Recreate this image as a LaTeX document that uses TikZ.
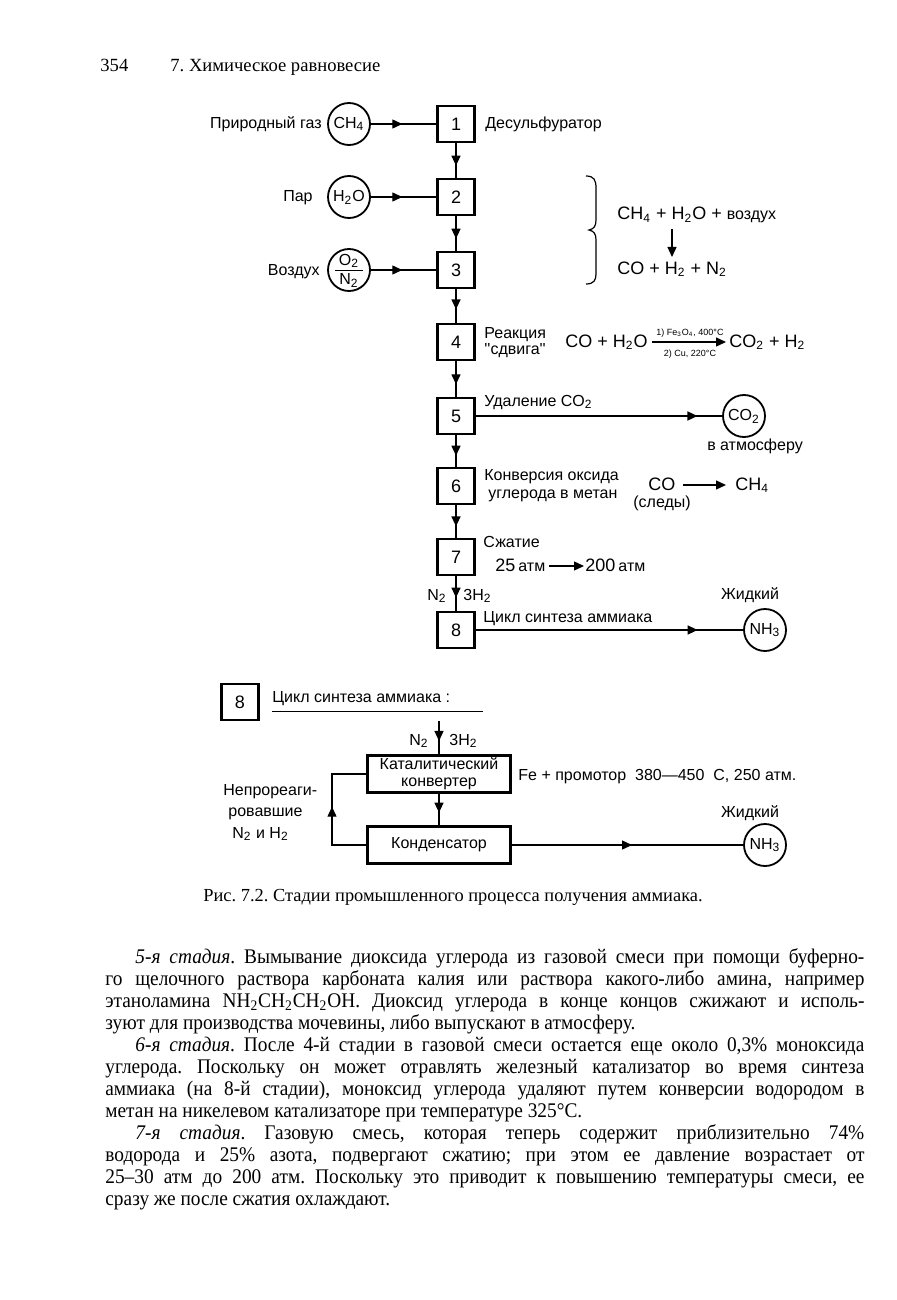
\documentclass[tikz,border=0pt]{standalone}
\usepackage{fontspec}
\setmainfont{Liberation Serif}
\newfontfamily\dsf{Liberation Sans}
\usetikzlibrary{arrows.meta,decorations.markings}
\frenchspacing
\newcommand\sbs[1]{\textsubscript{#1}}
\newcommand\fullline[1]{\scalebox{0.93}[1]{\makebox[408.1pt][s]{#1}}}
\newcommand\indline[1]{\scalebox{0.93}[1]{\makebox[391.9pt][s]{#1}}}
\newcommand\lastline[1]{\scalebox{0.93}[1]{#1}}
\tikzset{
  stagebox/.style={draw,line width=1.2pt,minimum width=18.5pt,minimum height=18pt,inner sep=0pt,font=\dsf\fontsize{9}{10}\selectfont},
  unitbox/.style={draw,line width=1.2pt,minimum width=71.5pt,minimum height=18.5pt,inner sep=0pt,align=center,font=\dsf\fontsize{8}{8.5}\selectfont},
  chem/.style={draw,circle,line width=0.9pt,minimum size=21pt,inner sep=0pt,font=\dsf\fontsize{8}{9}\selectfont},
  lbl/.style={font=\dsf\fontsize{8}{9}\selectfont,inner sep=0pt},
  eqn/.style={font=\dsf\fontsize{9}{10}\selectfont,inner sep=0pt},
  tiny/.style={font=\dsf\fontsize{4.5}{5}\selectfont,inner sep=0pt,anchor=base},
  flow/.style={line width=0.65pt},
  tipped/.style={flow,-{Triangle[length=5pt,width=4.5pt]}},
  midarrow/.style={flow,postaction={decorate},decoration={markings,mark=at position #1 with {\arrow{Triangle[length=5pt,width=4.5pt]}}}},
  body/.style={font=\fontsize{10.4}{11}\selectfont,inner sep=0pt,anchor=base west},
  head/.style={font=\fontsize{9.3}{11}\selectfont,inner sep=0pt,anchor=base west},
}
\begin{document}
\begin{tikzpicture}[x=0.5pt,y=-0.5pt]
\useasboundingbox (0,0) rectangle (896,1300);
% header
\node[head] (pg) at (100,72) {354};
\node[head] (ch) at (170,72) {7. Химическое равновесие};
% stages
\node[stagebox] (s1) at (456,124) {1};
\node[stagebox] (s2) at (456,197) {2};
\node[stagebox] (s3) at (456,270) {3};
\node[stagebox] (s4) at (456,342) {4};
\node[stagebox] (s5) at (456,416) {5};
\node[stagebox] (s6) at (456,486) {6};
\node[stagebox] (s7) at (456,557) {7};
\node[stagebox] (s8) at (456,630) {8};
\draw[midarrow=0.65] (s1) -- (s2);
\draw[midarrow=0.65] (s2) -- (s3);
\draw[midarrow=0.6] (s3) -- (s4);
\draw[midarrow=0.65] (s4) -- (s5);
\draw[midarrow=0.65] (s5) -- (s6);
\draw[midarrow=0.65] (s6) -- (s7);
\draw[midarrow=0.62] (s7) -- (s8);
% inputs
\node[chem] (c1) at (349,124) {CH\sbs{4}};
\node[chem] (c2) at (349,197) {H\sbs{2}O};
\node[chem] (c3) at (349,270) {};
\node[lbl,anchor=base] (c3o) at (349,265) {O\sbs{2}};
\draw[line width=0.5pt] (c3.center) ++(-14,0) -- ++(28,0);
\node[lbl,anchor=base] (c3n) at (349,285) {N\sbs{2}};
\draw[midarrow=0.48] (c1) -- (s1);
\draw[midarrow=0.48] (c2) -- (s2);
\draw[midarrow=0.48] (c3) -- (s3);
\node[lbl,anchor=base east] (l1) at (322,129) {Природный газ};
\node[lbl,anchor=base east] (l2) at (313,202) {Пар};
\node[lbl,anchor=base east] (l3) at (320,275) {Воздух};
\node[lbl,anchor=base west] (t1) at (485,129) {Десульфуратор};
% brace and reforming reaction
\draw[line width=0.6pt] (586,176) .. controls (594,176) and (596,180) .. (596,188) -- (596,220)
  .. controls (596,226) and (594,229) .. (589,230) .. controls (594,231) and (596,234) .. (596,240)
  -- (596,274) .. controls (596,280) and (594,284) .. (586,284);
\node[eqn,anchor=base west] (e1) at (617,220) {CH\sbs{4} + H\sbs{2}O + \fontsize{8}{9}\selectfont воздух};
\node[eqn,anchor=base west] (e2) at (617,274) {CO + H\sbs{2} + N\sbs{2}};
\coordinate (e1a) at (672,229);
\coordinate (e1b) at (672,257);
\draw[tipped] (e1a) -- (e1b);
% stage 4
\node[lbl,anchor=base west] (t4a) at (484,338) {Реакция};
\node[lbl,anchor=base west] (t4b) at (484,354) {''сдвига''};
\node[eqn,anchor=base west] (r4l) at (565,347) {CO + H\sbs{2}O};
\coordinate (r4a) at (652,342);
\coordinate (r4b) at (726,342);
\draw[tipped] (r4a) -- (r4b);
\node[tiny] (r4t) at (690,335) {1) Fe\sbs{3}O\sbs{4}, 400°C};
\node[tiny] (r4u) at (690,356) {2) Cu, 220°C};
\node[eqn,anchor=base west] (r4r) at (729,347) {CO\sbs{2} + H\sbs{2}};
% stage 5
\node[lbl,anchor=base west] (t5) at (484,406) {Удаление CO\sbs{2}};
\node[chem] (co2) at (744,416) {CO\sbs{2}};
\draw[midarrow=0.9] (s5) -- (co2);
\node[lbl,anchor=base] (atm) at (755,450) {в атмосферу};
% stage 6
\node[lbl,anchor=base west] (t6a) at (484,480) {Конверсия оксида};
\node[lbl,anchor=base west] (t6b) at (488,498) {углерода в метан};
\node[eqn,anchor=base west] (r6l) at (648,490) {CO};
\coordinate (r6a) at (683,485);
\coordinate (r6b) at (726,485);
\draw[tipped] (r6a) -- (r6b);
\node[eqn,anchor=base west] (r6r) at (735,490) {CH\sbs{4}};
\node[lbl,anchor=base west] (r6s) at (633,507) {(следы)};
% stage 7
\node[lbl,anchor=base west] (t7) at (483,547) {Сжатие};
\node[eqn,anchor=base west] (p1) at (495,571) {25\,\fontsize{8}{9}\selectfont атм};
\coordinate (p1a) at (549,566);
\coordinate (p1b) at (584,566);
\draw[tipped] (p1a) -- (p1b);
\node[eqn,anchor=base west] (p2) at (585,571) {200\,\fontsize{8}{9}\selectfont атм};
\node[lbl,anchor=base east] (n2a) at (447,600) {N\sbs{2}};
\node[lbl,anchor=base west] (h2a) at (463,600) {3H\sbs{2}};
% stage 8
\node[lbl,anchor=base west] (t8) at (483,622) {Цикл синтеза аммиака};
\node[chem] (nh3a) at (765,630) {NH\sbs{3}};
\draw[midarrow=0.83] (s8) -- (nh3a);
\node[lbl,anchor=base] (liq1) at (750,599) {Жидкий};
% lower scheme
\node[stagebox] (b8) at (240,702) {8};
\node[lbl,anchor=base west] (cyc) at (272,702) {Цикл синтеза аммиака :};
\draw[line width=0.5pt] (cyc.base west) ++(0,9) -- ++(211,0);
\coordinate (in8) at (439,721);
\node[unitbox] (cat) at (439,774) {Каталитический\\конвертер};
\node[unitbox] (cond) at (439,845) {Конденсатор};
\draw[midarrow=0.6] (in8) -- (cat);
\node[lbl,anchor=base east] (n2b) at (429,745) {N\sbs{2}};
\node[lbl,anchor=base west] (h2b) at (449,745) {3H\sbs{2}};
\draw[midarrow=0.6] (cat) -- (cond);
\coordinate (lp) at (332,774);
\draw[midarrow=0.52] (cond.west) -| (lp) -- (cat.west);
\node[lbl,anchor=base west] (u1) at (223,795) {Непрореаги-};
\node[lbl,anchor=base west] (u2) at (228,816) {ровавшие};
\node[lbl,anchor=base west] (u3) at (232,838) {N\sbs{2} и H\sbs{2}};
\node[lbl,anchor=base west] (fe) at (518,780) {Fe + промотор\ \ 380—450\ \ C, 250 атм.};
\node[chem] (nh3b) at (765,845) {NH\sbs{3}};
\draw[midarrow=0.52] (cond) -- (nh3b);
\node[lbl,anchor=base] (liq2) at (750,817) {Жидкий};
% caption
\node[body,font=\fontsize{9.2}{11}\selectfont] (cap) at (203,901) {Рис. 7.2. Стадии промышленного процесса получения аммиака.};
% body text
\node[body] (b1) at (135,963) {\indline{\textit{5-я стадия}. Вымывание диоксида углерода из газовой смеси при помощи буферно-}};
\node[body] (b2) at (105,985) {\fullline{го щелочного раствора карбоната калия или раствора какого-либо амина, например}};
\node[body] (b3) at (105,1007) {\fullline{этаноламина NH\sbs{2}CH\sbs{2}CH\sbs{2}OH. Диоксид углерода в конце концов сжижают и исполь-}};
\node[body] (b4) at (105,1029) {\lastline{зуют для производства мочевины, либо выпускают в атмосферу.}};
\node[body] (b5) at (135,1051) {\indline{\textit{6-я стадия}. После 4-й стадии в газовой смеси остается еще около 0,3\% моноксида}};
\node[body] (b6) at (105,1073) {\fullline{углерода. Поскольку он может отравлять железный катализатор во время синтеза}};
\node[body] (b7) at (105,1095) {\fullline{аммиака (на 8-й стадии), моноксид углерода удаляют путем конверсии водородом в}};
\node[body] (b8) at (105,1117) {\lastline{метан на никелевом катализаторе при температуре 325°C.}};
\node[body] (b9) at (135,1139) {\indline{\textit{7-я стадия}. Газовую смесь, которая теперь содержит приблизительно 74\%}};
\node[body] (b10) at (105,1161) {\fullline{водорода и 25\% азота, подвергают сжатию; при этом ее давление возрастает от}};
\node[body] (b11) at (105,1183) {\fullline{25–30 атм до 200 атм. Поскольку это приводит к повышению температуры смеси, ее}};
\node[body] (b12) at (105,1205) {\lastline{сразу же после сжатия охлаждают.}};
\end{tikzpicture}
\end{document}
